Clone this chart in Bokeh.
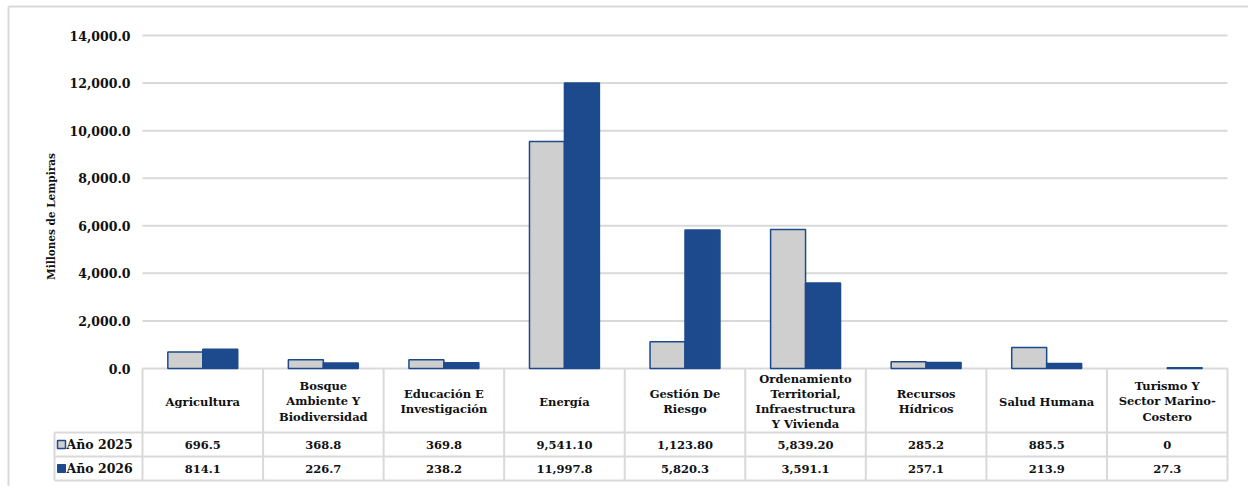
import numpy as np
from bokeh.plotting import figure
from bokeh.models import Range1d
from bokeh.embed import file_html
from bokeh.resources import INLINE
from bokeh.core.properties import value

# ---------------- data ----------------
categories = [
    "Agricultura",
    "Bosque\nAmbiente Y\nBiodiversidad",
    "Educación E\nInvestigación",
    "Energía",
    "Gestión De\nRiesgo",
    "Ordenamiento\nTerritorial,\nInfraestructura\nY Vivienda",
    "Recursos\nHídricos",
    "Salud Humana",
    "Turismo Y\nSector Marino-\nCostero",
]
anio_2025 = [696.5, 368.8, 369.8, 9541.10, 1123.80, 5839.20, 285.2, 885.5, 0.0]
anio_2026 = [814.1, 226.7, 238.2, 11997.8, 5820.3, 3591.1, 257.1, 213.9, 27.3]
labels_2025 = ["696.5", "368.8", "369.8", "9,541.10", "1,123.80", "5,839.20", "285.2", "885.5", "0"]
labels_2026 = ["814.1", "226.7", "238.2", "11,997.8", "5,820.3", "3,591.1", "257.1", "213.9", "27.3"]
series = ["Año 2025", "Año 2026"]
y_ticks = [0, 2000, 4000, 6000, 8000, 10000, 12000, 14000]
y_title = "Millones de Lempiras"

# ---------------- layout constants (page pixels) ----------------
W, H = 1248, 486
PL, PR = 142, 1227        # plot area left / right
PT, PB = 35, 368          # plot area top (14000) / bottom (0)
YMAX = 14000
LEG_L = 54                # table legend column left
ROW1, ROW2, TBOT = 432, 456, 480

FONT = value("DejaVu Serif")
BLUE = "#1c4a8c"
GRAY = "#cfcfcf"
GRID = "#d9d9d9"
INK = "#111111"
n = len(categories)

c = (PR - PL) / n                 # px per category
k = YMAX / (PB - PT)              # value units per px

p = figure(width=W, height=H,
           x_range=Range1d(-PL / c, n + (W - PR) / c),
           y_range=Range1d(-(H - PB) * k, YMAX + PT * k),
           output_backend="svg", toolbar_location=None,
           x_axis_location=None, y_axis_location=None,
           min_border=0, min_border_left=0, min_border_right=0,
           min_border_top=0, min_border_bottom=0)
p.outline_line_color = None
p.grid.visible = False
p.extra_x_ranges = {"px": Range1d(0, W)}
p.extra_y_ranges = {"py": Range1d(H, 0)}

# outer chart border (top & left visible)
p.segment(x0=[8, 8], y0=[6, 6], x1=[W, 8], y1=[6, H], line_color=GRID, line_width=2,
          x_range_name="px", y_range_name="py")

# gridlines
p.segment(x0=[0] * len(y_ticks), y0=y_ticks, x1=[n] * len(y_ticks), y1=y_ticks,
          line_color=GRID, line_width=2)

# y tick labels
p.text(x=[130] * len(y_ticks), y=y_ticks, text=["{:,.1f}".format(t) for t in y_ticks],
       x_range_name="px", text_font=FONT, text_font_style="bold", text_font_size="12.5px",
       text_color=INK, text_align="right", text_baseline="middle")

# y axis title
p.text(x=[50], y=[216], text=[y_title], angle=np.pi / 2, x_range_name="px", y_range_name="py",
       text_font=FONT, text_font_style="bold", text_font_size="10.5px", text_color=INK,
       text_align="center", text_baseline="middle")

# bars
idx = np.arange(n) + 0.5
bw = 0.29
p.vbar(x=idx - bw / 2, top=anio_2025, width=bw, bottom=0, fill_color=GRAY,
       line_color=[BLUE if v > 0 else None for v in anio_2025], line_width=1.5)
p.vbar(x=idx + bw / 2, top=anio_2026, width=bw, bottom=0, fill_color=BLUE,
       line_color=[BLUE if v > 0 else None for v in anio_2026], line_width=1.5)

# ---------------- data table ----------------
xs = np.arange(n + 1)
p.segment(x0=xs, y0=[PB] * (n + 1), x1=xs, y1=[TBOT] * (n + 1),
          y_range_name="py", line_color=GRID, line_width=2)
p.segment(x0=[LEG_L], y0=[ROW1], x1=[LEG_L], y1=[TBOT],
          x_range_name="px", y_range_name="py", line_color=GRID, line_width=2)
p.segment(x0=[LEG_L] * 3, y0=[ROW1, ROW2, TBOT], x1=[PR] * 3, y1=[ROW1, ROW2, TBOT],
          x_range_name="px", y_range_name="py", line_color=GRID, line_width=2)

txt = dict(text_font=FONT, text_font_style="bold", text_font_size="11.5px",
           text_color=INK, text_align="center", text_baseline="middle", y_range_name="py")
p.text(x=idx, y=[(PB + ROW1) / 2 + 1] * n, text=categories, text_line_height=1.08, **txt)
p.text(x=idx, y=[(ROW1 + ROW2) / 2] * n, text=labels_2025, **txt)
p.text(x=idx, y=[(ROW2 + TBOT) / 2] * n, text=labels_2026, **txt)

# legend keys
r1y, r2y = (ROW1 + ROW2) / 2, (ROW2 + TBOT) / 2
p.scatter(x=[LEG_L + 7], y=[r1y], marker="square", size=8, fill_color=GRAY,
          line_color=BLUE, line_width=1.5, x_range_name="px", y_range_name="py")
p.scatter(x=[LEG_L + 7], y=[r2y], marker="square", size=8, fill_color=BLUE,
          line_color=BLUE, x_range_name="px", y_range_name="py")
p.text(x=[LEG_L + 12] * 2, y=[r1y, r2y], text=series, x_range_name="px", y_range_name="py",
       text_font=FONT, text_font_style="bold", text_font_size="12.5px",
       text_color=INK, text_align="left", text_baseline="middle")

open("out.html", "w").write(file_html(p, INLINE))
